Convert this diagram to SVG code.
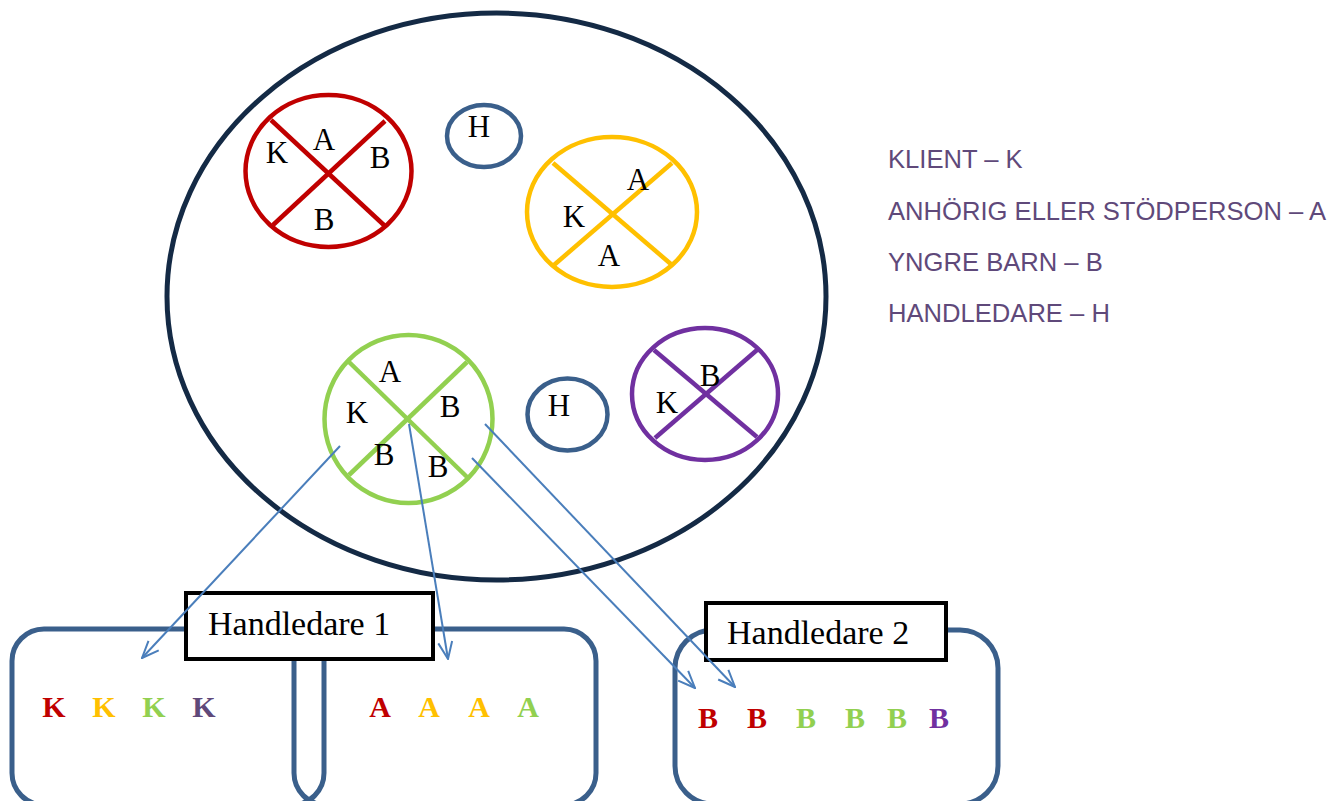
<svg xmlns="http://www.w3.org/2000/svg" width="1333" height="801" viewBox="0 0 1333 801">
<defs>
<style>
.lbl{font-family:"Liberation Serif","Times New Roman",serif;font-size:31px;fill:#000;text-anchor:middle}
.big{font-family:"Liberation Serif","Times New Roman",serif;font-size:30px;font-weight:bold;text-anchor:middle}
.hd{font-family:"Liberation Serif","Times New Roman",serif;font-size:34px;fill:#000}
.leg{font-family:"Liberation Sans",Arial,sans-serif;font-size:25.6px;fill:#5f497a}
.grp{fill:none;stroke-width:4.5}
.hc{fill:none;stroke:#3a5f8b;stroke-width:4.5}
.box{fill:none;stroke:#3a5f8b;stroke-width:5}
.tag{fill:#fff;stroke:#000;stroke-width:4}
.arr{fill:none;stroke:#4a7ebb;stroke-width:2;marker-end:url(#ah)}
</style>
<marker id="ah" viewBox="0 0 20 20" refX="19" refY="10" markerWidth="20" markerHeight="20" markerUnits="userSpaceOnUse" orient="auto">
<path d="M2,3 L19,10 L2,17" fill="none" stroke="#4a7ebb" stroke-width="2"/>
</marker>
</defs>
<rect width="1333" height="801" fill="#fff"/>

<g id="group-ellipse">
<ellipse cx="496.5" cy="296.5" rx="329.5" ry="283.5" fill="none" stroke="#142a45" stroke-width="5"/>
</g>

<g id="family-red">
<ellipse class="grp" stroke="#c00000" cx="328.5" cy="171" rx="83" ry="76"/>
<line class="grp" stroke="#c00000" x1="271" y1="120" x2="386" y2="227"/>
<line class="grp" stroke="#c00000" x1="385" y1="121" x2="273" y2="225"/>
<text class="lbl" x="277" y="163">K</text>
<text class="lbl" x="324" y="150">A</text>
<text class="lbl" x="380" y="168">B</text>
<text class="lbl" x="324" y="230">B</text>
</g>

<g id="handledare-circle-1">
<ellipse class="hc" cx="484" cy="136" rx="37" ry="31"/>
<text class="lbl" x="479" y="137">H</text>
</g>

<g id="family-yellow">
<ellipse class="grp" stroke="#ffc000" cx="612" cy="212" rx="85" ry="75"/>
<line class="grp" stroke="#ffc000" x1="553" y1="163" x2="672" y2="265"/>
<line class="grp" stroke="#ffc000" x1="672" y1="163" x2="554" y2="265"/>
<text class="lbl" x="638" y="190">A</text>
<text class="lbl" x="574" y="227">K</text>
<text class="lbl" x="609" y="266">A</text>
</g>

<g id="family-green">
<ellipse class="grp" stroke="#92d050" cx="408.5" cy="419" rx="84" ry="84"/>
<line class="grp" stroke="#92d050" x1="349" y1="362" x2="467" y2="477"/>
<line class="grp" stroke="#92d050" x1="467" y1="362" x2="349" y2="475"/>
<text class="lbl" x="390" y="382">A</text>
<text class="lbl" x="357" y="423">K</text>
<text class="lbl" x="450" y="417">B</text>
<text class="lbl" x="384" y="465">B</text>
<text class="lbl" x="438" y="477">B</text>
</g>

<g id="handledare-circle-2">
<ellipse class="hc" cx="567.5" cy="414.5" rx="40" ry="36"/>
<text class="lbl" x="559" y="416">H</text>
</g>

<g id="family-purple">
<ellipse class="grp" stroke="#7030a0" cx="705" cy="394" rx="73" ry="66"/>
<line class="grp" stroke="#7030a0" x1="654" y1="350" x2="757" y2="437"/>
<line class="grp" stroke="#7030a0" x1="757" y1="350" x2="655" y2="438"/>
<text class="lbl" x="710" y="386">B</text>
<text class="lbl" x="667" y="413">K</text>
</g>

<g id="legend">
<text class="leg" x="888" y="168">KLIENT – K</text>
<text class="leg" x="888" y="220">ANHÖRIG ELLER STÖDPERSON – A</text>
<text class="leg" x="888" y="271">YNGRE BARN – B</text>
<text class="leg" x="888" y="322">HANDLEDARE – H</text>
</g>

<g id="group-k">
<rect class="box" x="12" y="629" width="312" height="176" rx="32"/>
<text class="big" x="54" y="717" fill="#c00000">K</text>
<text class="big" x="104" y="717" fill="#ffc000">K</text>
<text class="big" x="154" y="717" fill="#92d050">K</text>
<text class="big" x="204" y="717" fill="#5f497a">K</text>
</g>

<g id="group-a">
<rect class="box" x="294" y="629" width="302" height="176" rx="32"/>
<text class="big" x="380" y="717" fill="#c00000">A</text>
<text class="big" x="429" y="717" fill="#ffc000">A</text>
<text class="big" x="479" y="717" fill="#ffc000">A</text>
<text class="big" x="528" y="717" fill="#92d050">A</text>
</g>

<g id="label-handledare-1">
<rect class="tag" x="186" y="593" width="247" height="66"/>
<text class="hd" x="208" y="635">Handledare 1</text>
</g>

<g id="group-b">
<rect class="box" x="675" y="630" width="323" height="174" rx="38"/>
<text class="big" x="708" y="728" fill="#c00000">B</text>
<text class="big" x="757" y="728" fill="#c00000">B</text>
<text class="big" x="806" y="728" fill="#92d050">B</text>
<text class="big" x="855" y="728" fill="#92d050">B</text>
<text class="big" x="897" y="728" fill="#92d050">B</text>
<text class="big" x="939" y="728" fill="#7030a0">B</text>
</g>

<g id="label-handledare-2">
<rect class="tag" x="706" y="603" width="240" height="57"/>
<text class="hd" x="727" y="644">Handledare 2</text>
</g>

<g id="connectors">
<line class="arr" x1="340" y1="446" x2="142" y2="658"/>
<line class="arr" x1="409" y1="424" x2="448" y2="659"/>
<line class="arr" x1="472" y1="458" x2="695" y2="688"/>
<line class="arr" x1="485" y1="424" x2="735" y2="687"/>
</g>
</svg>
